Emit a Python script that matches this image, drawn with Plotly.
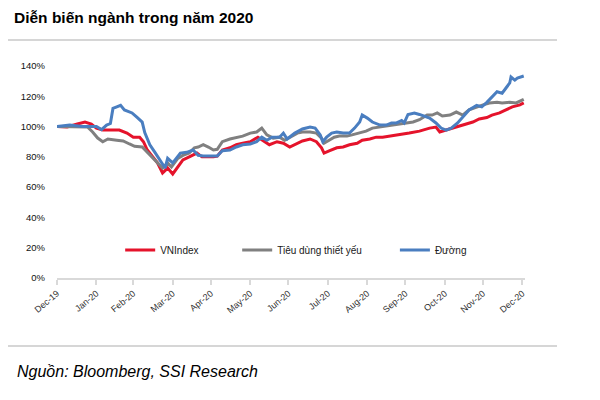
import pandas as pd
import plotly.graph_objects as go

NARROW_FONT = "Liberation Sans Narrow, Arial Narrow, Liberation Sans, Arial, sans-serif"
AXIS_LINE_COLOR = "#d9d9d9"
TICK_FONT_COLOR = "#303030"
SEPARATOR_COLOR = "#c8c8c8"

START_DATE = "2019-12-31"

# days since 31 Dec 2019 and level in % (start = 100%)
vnindex_days = [0, 8, 16, 22, 27, 31, 36, 43, 49, 55, 60, 65, 68, 71, 75, 79, 83, 87, 91, 95,
                99, 104, 110, 114, 118, 123, 126, 130, 136, 141, 146, 152, 158, 162, 167, 173,
                178, 183, 189, 193, 199, 204, 208, 210, 214, 220, 225, 230, 236, 240, 246, 251,
                256, 262, 267, 272, 277, 285, 293, 298, 301, 306, 311, 317, 322, 327, 332, 338,
                342, 348, 353, 358, 364, 367]
vnindex_values = [100, 99.7, 101.7, 103, 101.7, 99, 97.7, 97.7, 97.7, 95.7, 93, 93, 90, 84.5,
                  80, 76, 69.3, 72.6, 68.7, 73.3, 78, 80, 82.5, 80, 80, 80, 80.5, 84.5, 86, 88,
                  89, 90, 93, 91, 88, 90, 89, 86.5, 89, 90.5, 91.8, 90, 86, 82.5, 84, 86, 86.5,
                  88, 89, 91, 91.8, 93, 93, 93.7, 94.5, 95, 95.7, 97, 99, 99.7, 96.4, 97.7, 99,
                  100.4, 101.7, 103, 105, 106, 107.6, 109, 111, 113, 114.3, 115.6]

staples_days = [0, 10, 20, 24, 28, 32, 36, 40, 47, 52, 57, 61, 67, 71, 75, 79, 83, 87, 90, 95,
                99, 104, 108, 111, 115, 119, 123, 126, 130, 136, 141, 146, 152, 157, 161, 165,
                170, 175, 179, 183, 189, 193, 199, 204, 208, 210, 214, 218, 222, 228, 232, 238,
                243, 248, 254, 259, 264, 269, 275, 280, 285, 291, 295, 299, 303, 309, 314, 319,
                324, 330, 335, 340, 346, 350, 356, 361, 367]
staples_values = [100, 100, 100, 99.7, 96.4, 92.4, 90, 91.8, 91, 90.5, 88.5, 87, 86.5, 83, 80,
                  76, 72.6, 76, 73.3, 79, 81, 82.5, 86, 86.5, 88, 86.5, 84.5, 85, 90, 91.8, 93,
                  93.7, 95.7, 96.4, 99, 94.5, 92.4, 93, 91, 93, 95.7, 96.4, 96.4, 95.7, 92.4, 89,
                  91, 93, 93.7, 93.7, 94.5, 95.7, 97, 99, 99.7, 100.4, 101, 101.7, 102.4, 103,
                  104.5, 107.6, 107.6, 109, 107, 107.6, 109.6, 107.6, 111, 113, 114.3, 115.6,
                  116, 115.6, 116, 115.6, 118]

sugar_days = [0, 10, 20, 31, 35, 39, 42, 44, 47, 50, 53, 59, 63, 67, 69, 73, 77, 81, 85, 87,
              91, 97, 102, 107, 111, 115, 120, 126, 130, 136, 141, 146, 152, 157, 161, 165, 169,
              175, 178, 181, 187, 193, 199, 203, 207, 209, 212, 216, 220, 225, 230, 234, 238,
              240, 244, 248, 254, 259, 263, 267, 271, 273, 276, 281, 285, 293, 298, 302, 306,
              310, 315, 319, 324, 330, 334, 338, 342, 346, 350, 353, 356, 357, 360, 362, 367]
sugar_values = [100, 101, 100, 100, 98, 101, 102, 112, 113, 114, 111, 109, 106, 103, 96, 88, 83,
                78, 72.6, 79, 76, 82.5, 83, 84.5, 81, 80.5, 80.5, 80.5, 84, 84.5, 86.5, 88, 88.5,
                90, 93, 91, 93, 93, 95.7, 91.8, 95.7, 98.4, 99.7, 99, 94.5, 90, 93, 95.7, 96.4,
                95.7, 95.7, 99, 103, 107.6, 105.6, 103, 101, 101, 102.4, 102.4, 104, 102.4, 108,
                109, 108, 105.6, 102.4, 99, 97.7, 99, 102.4, 106, 111, 114, 113, 116, 119.5, 123,
                122, 125.5, 128.8, 132.7, 130.7, 132, 133.4]

tick_dates = ["2019-12-31", "2020-01-31", "2020-02-29", "2020-03-31", "2020-04-30", "2020-05-31",
              "2020-06-30", "2020-07-31", "2020-08-31", "2020-09-30", "2020-10-31", "2020-11-30",
              "2020-12-31"]
tick_labels = ["Dec-19", "Jan-20", "Feb-20", "Mar-20", "Apr-20", "May-20", "Jun-20", "Jul-20",
               "Aug-20", "Sep-20", "Oct-20", "Nov-20", "Dec-20"]


def to_dates(days):
    return pd.Timestamp(START_DATE) + pd.to_timedelta(days, unit="D")


series = [
    ("VNIndex", vnindex_days, vnindex_values, "#e5132b", "legend", 0.135),
    ("Tiêu dùng thiết yếu", staples_days, staples_values, "#808080", "legend2", 0.385),
    ("Đường", sugar_days, sugar_values, "#4a7ec0", "legend3", 0.722),
]

fig = go.Figure()
for name, days, values, color, legend_id, _ in series:
    fig.add_trace(go.Scatter(
        x=to_dates(days),
        y=values,
        name=name,
        mode="lines",
        line=dict(color=color, width=3),
        legend=legend_id,
    ))

# one legend per entry so the gaps between entries can follow the reference
legend_style = dict(
    orientation="h",
    yanchor="middle",
    y=0.132,
    xanchor="left",
    bgcolor="rgba(0,0,0,0)",
    font=dict(family=NARROW_FONT, size=10, color="#202020"),
)
legends = {}
for name, days, values, color, legend_id, legend_x in series:
    legends[legend_id] = dict(legend_style, x=legend_x)

# the page body adds 8px on the left and top, margins are reduced by that
fig.update_layout(
    width=600,
    height=400,
    margin=dict(l=49, r=83, t=58, b=130),
    plot_bgcolor="white",
    paper_bgcolor="white",
    title=dict(
        text="<b>Diễn biến ngành trong năm 2020</b>",
        x=0.01,
        xref="container",
        xanchor="left",
        y=0.977,
        yref="container",
        yanchor="middle",
        font=dict(family=NARROW_FONT, size=15.5, color="black"),
    ),
    showlegend=True,
    **legends,
)

fig.update_xaxes(
    type="date",
    range=["2019-12-31", "2021-01-02"],
    tickvals=tick_dates,
    ticktext=tick_labels,
    tickangle=-40,
    tickfont=dict(family=NARROW_FONT, size=9, color=TICK_FONT_COLOR),
    showgrid=False,
    zeroline=False,
    showline=True,
    linecolor=AXIS_LINE_COLOR,
    linewidth=1.5,
    ticks="outside",
    ticklen=5,
    tickcolor=AXIS_LINE_COLOR,
    tickwidth=1.5,
)
fig.update_yaxes(
    range=[0, 140],
    dtick=20,
    ticksuffix="%",
    tickfont=dict(family=NARROW_FONT, size=9.5, color="#111111"),
    ticklabelstandoff=11,
    showgrid=False,
    zeroline=False,
    showline=False,
)

# thin grey rules under the title and above the source line
for rule_y in [1.1226, -0.3208]:
    fig.add_shape(type="line", xref="paper", yref="paper",
                  x0=-0.1132, x1=1.0684, y0=rule_y, y1=rule_y,
                  line=dict(color=SEPARATOR_COLOR, width=1.5))

fig.add_annotation(
    text="<i>Nguồn: Bloomberg, SSI Research</i>",
    xref="paper", yref="paper",
    x=-0.0897, y=-0.443,
    xanchor="left", yanchor="middle",
    showarrow=False,
    font=dict(family=NARROW_FONT, size=16, color="black"),
)

fig.write_html("out.html")
